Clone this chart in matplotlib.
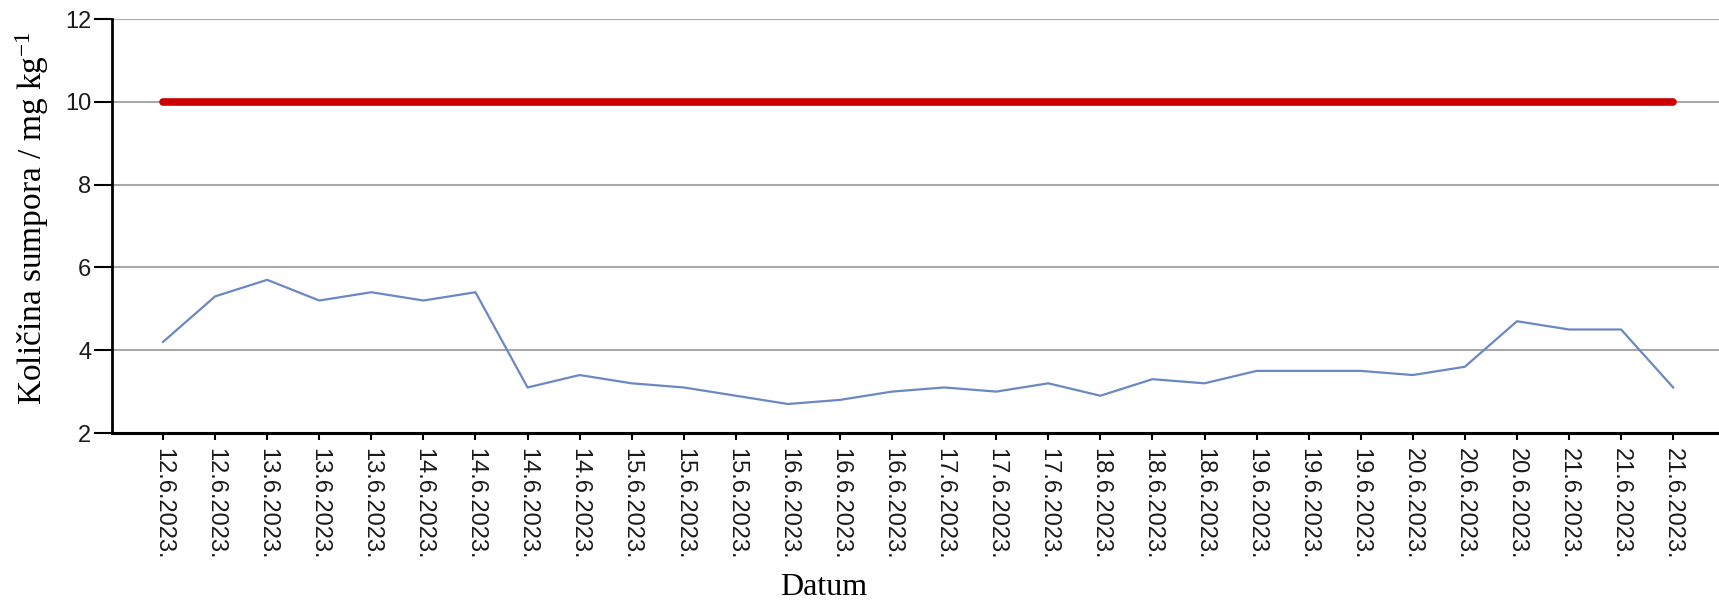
import matplotlib
matplotlib.use("Agg")
import matplotlib.pyplot as plt

# sampling dates (x categories)
dates = ["12.6.2023.", "12.6.2023.", "13.6.2023.", "13.6.2023.", "13.6.2023.",
         "14.6.2023.", "14.6.2023.", "14.6.2023.", "14.6.2023.", "15.6.2023.",
         "15.6.2023.", "15.6.2023.", "16.6.2023.", "16.6.2023.", "16.6.2023.",
         "17.6.2023.", "17.6.2023.", "17.6.2023.", "18.6.2023.", "18.6.2023.",
         "18.6.2023.", "19.6.2023.", "19.6.2023.", "19.6.2023.", "20.6.2023.",
         "20.6.2023.", "20.6.2023.", "21.6.2023.", "21.6.2023.", "21.6.2023."]

# measured sulphur content, mg/kg
sulphur = [4.2, 5.3, 5.7, 5.2, 5.4, 5.2, 5.4, 3.1, 3.4, 3.2,
           3.1, 2.9, 2.7, 2.8, 3.0, 3.1, 3.0, 3.2, 2.9, 3.3,
           3.2, 3.5, 3.5, 3.5, 3.4, 3.6, 4.7, 4.5, 4.5, 3.1]

# limit value
limit = [10] * len(dates)

plt.rcParams['mathtext.fontset'] = 'custom'
plt.rcParams['mathtext.rm'] = 'Liberation Serif'
plt.rcParams['mathtext.it'] = 'Liberation Serif'

fig = plt.figure(figsize=(17.19, 6.01), dpi=100)
ax = fig.add_axes([112 / 1719, 1 - 433 / 601, 1 - 112 / 1719, (433 - 19) / 601])

x = list(range(len(dates)))
ax.plot(x, limit, color='#cc0000', linewidth=5.5, solid_capstyle='round', zorder=3)
ax.plot(x, sulphur, color='#6b88c2', linewidth=1.6, zorder=3)

ax.set_ylim(2, 12)
ax.set_xlim(-0.98, len(dates) - 1 + 0.88)
ax.set_yticks([2, 4, 6, 8, 10, 12])
ax.set_xticks(x)
ax.set_xticklabels(dates, rotation=270, fontsize=17, family='Liberation Sans', color='#1a1a1a')
for lab in ax.get_yticklabels():
    lab.set_fontsize(17)
    lab.set_family('Liberation Sans')
    lab.set_color('#1a1a1a')

ax.grid(axis='y', color='#a8a8a8', linewidth=1.5)
ax.set_axisbelow(True)
for s in ['top', 'right']:
    ax.spines[s].set_visible(False)
ax.spines['left'].set_linewidth(2)
ax.spines['bottom'].set_linewidth(2.2)
ax.tick_params(axis='y', length=13, width=1.5, pad=2)
ax.tick_params(axis='x', length=5, width=1.5, pad=6)

ax.set_ylabel("Količina sumpora / mg kg$^{-1}$", family='Liberation Serif', fontsize=24)
ax.yaxis.set_label_coords(-0.038, 0.52)
fig.text(824 / 1719, 0.022, "Datum", family='Liberation Serif', fontsize=23, ha='center', va='center')

fig.savefig("out.png", dpi=100)
